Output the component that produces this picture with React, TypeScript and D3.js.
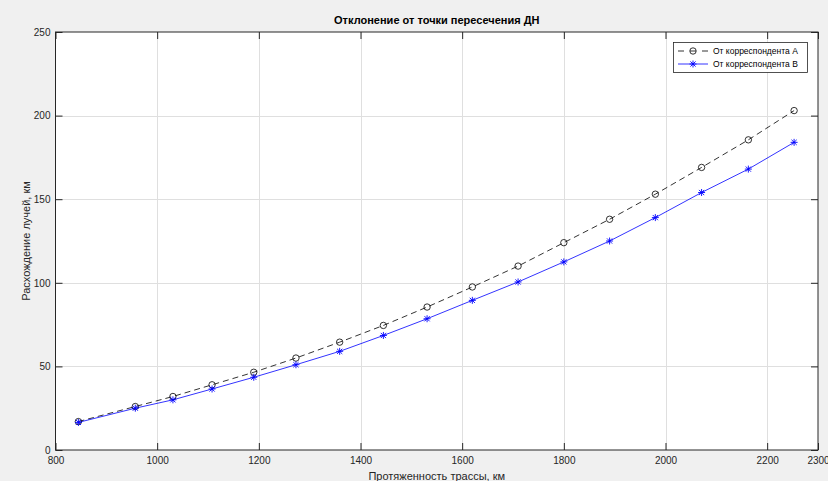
import React, { useEffect, useRef } from 'react'
import * as d3 from 'd3'

// протяженность трассы, км
const distances = [845, 957, 1031, 1108, 1190, 1273, 1359, 1445, 1531, 1620, 1710, 1800, 1890, 1980, 2071, 2163, 2253]
// расхождение лучей, км
const seriesA = [17, 26, 32, 39, 46.5, 55, 64.5, 74.5, 85.5, 97.5, 110, 124, 138, 153, 169, 185.5, 203]
const seriesB = [16.5, 25, 30, 36.5, 43.5, 51, 59, 68.5, 78.5, 89.5, 100.5, 112.5, 125, 139, 154, 168, 184]
const xTicks = [800, 1000, 1200, 1400, 1600, 1800, 2000, 2200, 2300]
const yTicks = [0, 50, 100, 150, 200, 250]
const legendLabels = ['От корреспондента А', 'От корреспондента В']

function App() {
    const ref = useRef<SVGSVGElement>(null)

    useEffect(() => {
        draw()
    }, [])

    const draw = () => {
        const width = 828
        const height = 481
        const left = 55.5, right = 818, top = 32, bottom = 450
        const font = 'Liberation Sans, Arial, sans-serif'
        const axisColor = '#262626'

        const svg = d3.select(ref.current)
        svg.selectAll('*').remove()

        svg.append('rect').attr('width', width).attr('height', height).attr('fill', '#f0f0f0')

        const xScale = d3.scaleLinear().domain([800, 2300]).range([left, right])
        const yScale = d3.scaleLinear().domain([0, 250]).range([bottom, top])

        svg.append('rect')
            .attr('x', left).attr('y', top)
            .attr('width', right - left).attr('height', bottom - top)
            .attr('fill', '#fff')

        // grid
        const grid = svg.append('g').attr('stroke', '#dfdfdf').attr('stroke-width', 1)
        xTicks.slice(1, -1).forEach(t => {
            grid.append('line')
                .attr('x1', Math.round(xScale(t)) + 0.5).attr('x2', Math.round(xScale(t)) + 0.5)
                .attr('y1', top).attr('y2', bottom)
        })
        yTicks.slice(1, -1).forEach(t => {
            grid.append('line')
                .attr('y1', Math.round(yScale(t)) + 0.5).attr('y2', Math.round(yScale(t)) + 0.5)
                .attr('x1', left).attr('x2', right)
        })

        // axes (MATLAB-style: ticks inward, on all four sides)
        const tickLen = 7
        const fmt = d3.format('d')
        svg.append('g')
            .attr('transform', `translate(0,${bottom})`)
            .call(d3.axisBottom(xScale).tickValues(xTicks).tickFormat(fmt).tickSizeInner(-tickLen).tickSizeOuter(0).tickPadding(7))
            .call(g => g.select('.domain').remove())
        svg.append('g')
            .attr('transform', `translate(0,${top})`)
            .call(d3.axisTop(xScale).tickValues(xTicks).tickSizeInner(-tickLen).tickSizeOuter(0).tickFormat(() => ''))
            .call(g => g.select('.domain').remove())
        svg.append('g')
            .attr('transform', `translate(${left},0)`)
            .call(d3.axisLeft(yScale).tickValues(yTicks).tickFormat(fmt).tickSizeInner(-tickLen).tickSizeOuter(0).tickPadding(5))
            .call(g => g.select('.domain').remove())
        svg.append('g')
            .attr('transform', `translate(${right},0)`)
            .call(d3.axisRight(yScale).tickValues(yTicks).tickSizeInner(-tickLen).tickSizeOuter(0).tickFormat(() => ''))
            .call(g => g.select('.domain').remove())

        svg.selectAll('.tick line').attr('stroke', axisColor)
        svg.selectAll('.tick text')
            .attr('fill', axisColor)
            .style('font-family', font)
            .style('font-size', '10px')

        svg.append('rect')
            .attr('x', left).attr('y', top)
            .attr('width', right - left).attr('height', bottom - top)
            .attr('fill', 'none').attr('stroke', axisColor).attr('stroke-width', 1)

        // title and labels
        svg.append('text')
            .attr('x', (left + right) / 2).attr('y', 24)
            .attr('text-anchor', 'middle')
            .style('font-family', font).style('font-size', '11px').style('font-weight', 'bold')
            .attr('fill', '#000')
            .text('Отклонение от точки пересечения ДН')
        svg.append('text')
            .attr('x', (left + right) / 2).attr('y', 480)
            .attr('text-anchor', 'middle')
            .style('font-family', font).style('font-size', '11px')
            .attr('fill', axisColor)
            .text('Протяженность трассы, км')
        svg.append('text')
            .attr('transform', `translate(30,${(top + bottom) / 2}) rotate(-90)`)
            .attr('text-anchor', 'middle')
            .style('font-family', font).style('font-size', '11px')
            .attr('fill', axisColor)
            .text('Расхождение лучей, км')

        const plot = svg.append('g')
        const line = d3.line<number>()
            .x((d, i) => xScale(distances[i]))
            .y(d => yScale(d))

        plot.append('path')
            .datum(seriesA)
            .attr('fill', 'none')
            .attr('stroke', '#000')
            .attr('stroke-width', 0.8)
            .attr('stroke-dasharray', '6,4')
            .attr('d', line)
        plot.append('path')
            .datum(seriesB)
            .attr('fill', 'none')
            .attr('stroke', '#0000ff')
            .attr('stroke-width', 0.8)
            .attr('d', line)

        const circle = (g, x, y) => {
            g.append('circle').attr('cx', x).attr('cy', y).attr('r', 3.2)
                .attr('fill', 'none').attr('stroke', '#000').attr('stroke-width', 0.8)
        }
        const star = (g, x, y) => {
            const s = 3.5, d = 2.6
            const p = `M${x - s},${y}L${x + s},${y}M${x},${y - s}L${x},${y + s}` +
                `M${x - d},${y - d}L${x + d},${y + d}M${x - d},${y + d}L${x + d},${y - d}`
            g.append('path').attr('d', p).attr('stroke', '#0000ff').attr('stroke-width', 0.9).attr('fill', 'none')
        }

        seriesA.forEach((v, i) => circle(plot, xScale(distances[i]), yScale(v)))
        seriesB.forEach((v, i) => star(plot, xScale(distances[i]), yScale(v)))

        // legend
        const lg = svg.append('g').attr('transform', 'translate(673,42)')
        lg.append('rect').attr('x', 0.5).attr('y', 0.5).attr('width', 134).attr('height', 30)
            .attr('fill', '#fff').attr('stroke', axisColor).attr('stroke-width', 0.8)
        legendLabels.forEach((lbl, i) => {
            const y = 9 + i * 13
            lg.append('line').attr('x1', 5).attr('x2', 35).attr('y1', y).attr('y2', y)
                .attr('stroke', i === 0 ? '#000' : '#0000ff').attr('stroke-width', 0.8)
                .attr('stroke-dasharray', i === 0 ? '6,6' : null)
            if (i === 0) circle(lg, 20, y)
            else star(lg, 20, y)
            lg.append('text').attr('x', 40).attr('y', y + 3)
                .style('font-family', font).style('font-size', '8.5px')
                .attr('fill', '#000')
                .text(lbl)
        })
    }

    return (
        <svg ref={ref} width={828} height={481} style={{ position: 'absolute', left: 0, top: 0, display: 'block' }}></svg>
    )
}

export default App
